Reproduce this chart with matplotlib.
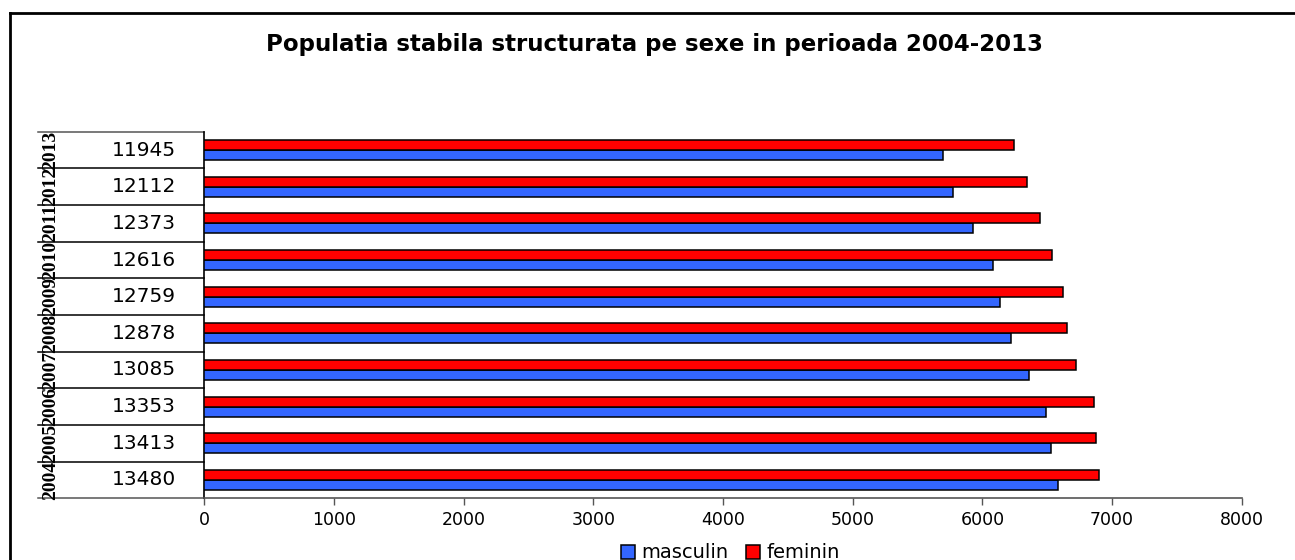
import matplotlib
matplotlib.use("Agg")
import matplotlib.pyplot as plt
from matplotlib.lines import Line2D
import numpy as np

years = ["2004", "2005", "2006", "2007", "2008", "2009", "2010", "2011", "2012", "2013"]
totals = ["13480", "13413", "13353", "13085", "12878", "12759", "12616", "12373", "12112", "11945"]
masculin = [6584, 6533, 6493, 6359, 6223, 6137, 6081, 5929, 5771, 5700]
feminin = [6896, 6880, 6860, 6726, 6655, 6622, 6535, 6444, 6341, 6245]
xticks = [0, 1000, 2000, 3000, 4000, 5000, 6000, 7000, 8000]

W, H = 1295, 560
fig = plt.figure(figsize=(W / 100, H / 100), dpi=100)
plt.rcParams['font.family'] = ['DejaVu Sans']

x0, x1 = 204.3, 1241.7
ytop, ybot = 131.7, 498.3
ax = fig.add_axes([x0 / W, 1 - ybot / H, (x1 - x0) / W, (ybot - ytop) / H])

y = np.arange(len(years))
h = 0.272
ax.barh(y - h / 2, masculin, height=h, color="#3366FF", edgecolor="black", linewidth=1.1, label="masculin", zorder=3)
ax.barh(y + h / 2, feminin, height=h, color="#FF0000", edgecolor="black", linewidth=1.1, label="feminin", zorder=3)

ax.set_xlim(0, 8000)
ax.set_ylim(-0.5, len(years) - 0.5)
ax.set_xticks(xticks)
ax.set_xticklabels([str(v) for v in xticks], fontsize=12.5)
ax.set_yticks([])
ax.tick_params(axis="x", direction="out", length=5, width=1, color="#555555", pad=4)
for s in ["top", "right"]:
    ax.spines[s].set_visible(False)
ax.spines["left"].set_color("black")
ax.spines["left"].set_linewidth(1.2)
ax.spines["bottom"].set_color("#555555")
ax.spines["bottom"].set_linewidth(1.2)

# left table
tr = ax.get_yaxis_transform()
xl = (38 - x0) / (x1 - x0)
for k in range(len(years) + 1):
    ax.plot([xl, 0], [k - 0.5, k - 0.5], transform=tr, color="black" if 0 < k < len(years) else "#555555",
            linewidth=1.1, clip_on=False)
xv = (144 - x0) / (x1 - x0)
xy = (51 - x0) / (x1 - x0)
for i in range(len(years)):
    ax.text(xv, i, totals[i], transform=tr, ha="center", va="center", fontsize=14.5)
    ax.text(xy, i, years[i], transform=tr, ha="center", va="center", rotation=90,
            fontsize=14, family=["Liberation Serif", "DejaVu Serif"], fontweight="bold")

fig.text(655 / W, 1 - 45 / H, "Populatia stabila structurata pe sexe in perioada 2004-2013",
         ha="center", va="center", fontsize=16.5, fontweight="bold")

# outer frame
fig.add_artist(Line2D([10 / W, 1.0], [1 - 13 / H, 1 - 13 / H], transform=fig.transFigure, color="black", linewidth=2))
fig.add_artist(Line2D([10 / W, 10 / W], [1 - 13 / H, 0.0], transform=fig.transFigure, color="black", linewidth=2))

fig.legend(loc="center", bbox_to_anchor=(730 / W, 1 - 553 / H), ncol=2, frameon=False, fontsize=14,
           handlelength=0.75, handleheight=0.75, handletextpad=0.3, columnspacing=0.9, borderpad=0)

fig.savefig("out.png", dpi=100)
